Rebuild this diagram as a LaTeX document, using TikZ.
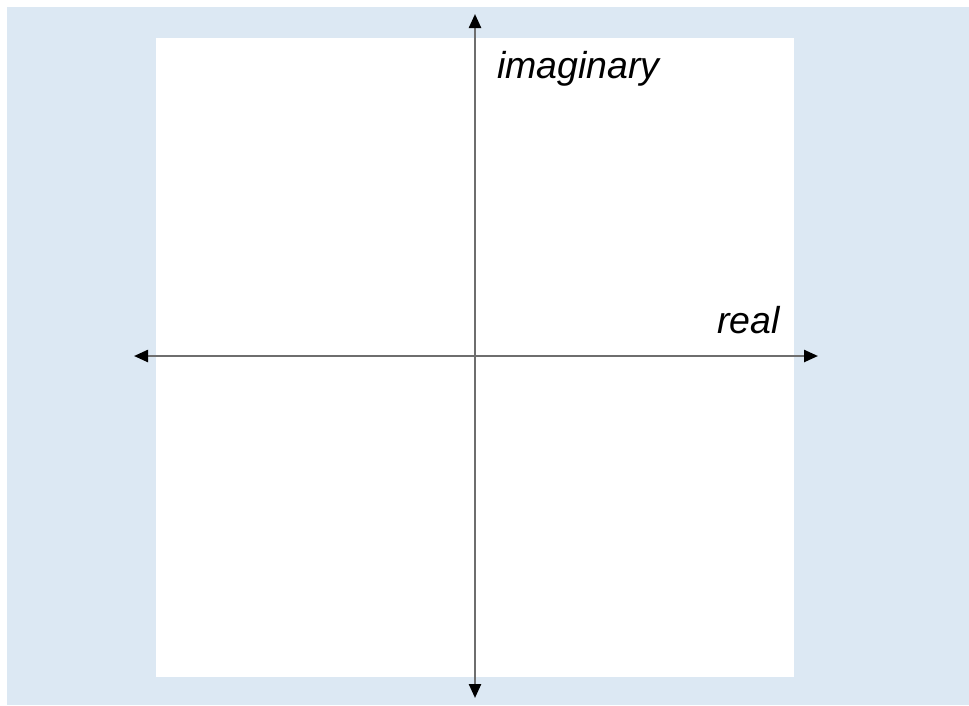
\documentclass[tikz,border=0pt]{standalone}
\usepackage{fontspec}
\setmainfont{Liberation Sans}
\usepackage{tikz}
\usetikzlibrary{arrows.meta}
\definecolor{PaneBlue}{RGB}{220,232,243}
\definecolor{AxisGray}{RGB}{110,110,110}

\begin{document}
\begin{tikzpicture}[x=1pt, y=-1pt,
          lbl/.style={anchor=base west, inner sep=0pt,
                      font=\fontsize{37.5}{42}\selectfont\itshape},
          axis/.style={{Triangle[length=14pt, width=12pt, color=black]}-{Triangle[length=14pt, width=12pt, color=black]},
                       draw=AxisGray, line width=2.4pt}
        ]
        \useasboundingbox (0,0) rectangle (969,705);

        % Background and plane
        \fill[PaneBlue] (7,7) rectangle (969,705);
        \fill[white] (156,38) rectangle (794,677);

        % Axis ends
        \coordinate (west)  at (134,356);
        \coordinate (east)  at (818,356);
        \coordinate (north) at (475,14);
        \coordinate (south) at (475,698);

        \draw[axis] (west)  -- (east);
        \draw[axis] (south) -- (north);

        % Labels
        \node[lbl] (im) at (497,78)  {imaginary};
        \node[lbl] (re) at (717,333) {real};
      \end{tikzpicture}
\end{document}
